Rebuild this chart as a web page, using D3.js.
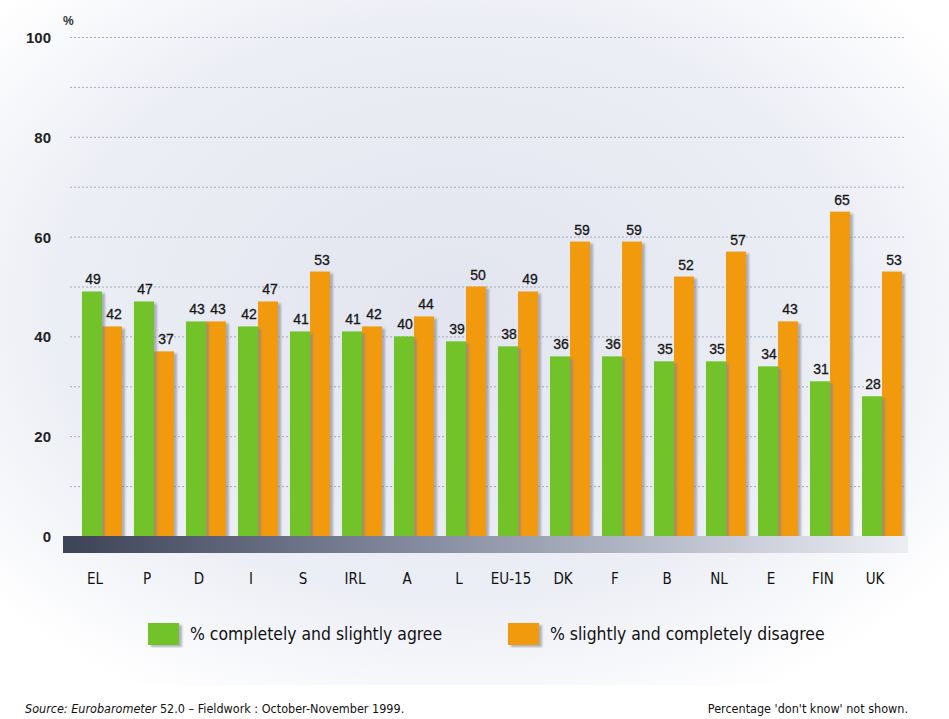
<!DOCTYPE html>
<html>
<head>
<meta charset="utf-8">
<script src="https://cdn.jsdelivr.net/npm/d3@7"></script>
<style>
  html, body { margin: 0; padding: 0; background: #fff; }
  svg { display: block; }
  .narrow { font-family: "DejaVu Sans Condensed", "DejaVu Sans", sans-serif; font-stretch: condensed; }
</style>
</head>
<body>
<svg id="chart"></svg>
<script>
// chart data
const countries = ["EL", "P", "D", "I", "S", "IRL", "A", "L", "EU-15", "DK", "F", "B", "NL", "E", "FIN", "UK"];
const agree    = [49, 47, 43, 42, 41, 41, 40, 39, 38, 36, 36, 35, 35, 34, 31, 28];
const disagree = [42, 37, 43, 47, 53, 42, 44, 50, 49, 59, 59, 52, 57, 43, 65, 53];
const seriesNames = ["% completely and slightly agree", "% slightly and completely disagree"];
const yTicks = [0, 20, 40, 60, 80, 100];

const width = 949, height = 719;
const green = "#72c22c", orange = "#f29a0c";

const svg = d3.select("#chart").attr("width", width).attr("height", height);
const defs = svg.append("defs");

// soft lavender background
const bg = defs.append("radialGradient").attr("id", "bg")
  .attr("cx", "48%").attr("cy", "45%").attr("r", "65%");
bg.append("stop").attr("offset", "0%").attr("stop-color", "#e2e5ef");
bg.append("stop").attr("offset", "65%").attr("stop-color", "#eceef5");
bg.append("stop").attr("offset", "100%").attr("stop-color", "#ffffff");
svg.append("rect").attr("width", width).attr("height", height).attr("fill", "#fff");
svg.append("rect").attr("x", 0).attr("y", 0).attr("width", width).attr("height", 685)
  .attr("fill", "url(#bg)");

// base bar gradient
const base = defs.append("linearGradient").attr("id", "base");
base.append("stop").attr("offset", "0%").attr("stop-color", "#3d4256");
base.append("stop").attr("offset", "45%").attr("stop-color", "#8a90a3");
base.append("stop").attr("offset", "100%").attr("stop-color", "#eceef4");

const axisGrad = defs.append("linearGradient").attr("id", "axisv")
  .attr("x1", 0).attr("x2", 0).attr("y1", 0).attr("y2", 1);
axisGrad.append("stop").attr("offset", "0%").attr("stop-color", "#d0d3dc");
axisGrad.append("stop").attr("offset", "100%").attr("stop-color", "#6b7083");

const shadow = defs.append("filter").attr("id", "shadow")
  .attr("x", "-20%").attr("y", "-5%").attr("width", "160%").attr("height", "115%");
shadow.append("feDropShadow").attr("dx", 3).attr("dy", 2).attr("stdDeviation", 1.3)
  .attr("flood-color", "#7f8496").attr("flood-opacity", 0.6);

const y = d3.scaleLinear().domain([0, 100]).range([536, 37]);
const x = d3.scaleBand().domain(countries).range([70, 914]).padding(0.23);
const xs = d3.scaleBand().domain([0, 1]).range([0, x.bandwidth()]);

// dotted gridlines every 10
svg.append("g").selectAll("line")
  .data(d3.range(10, 101, 10))
  .join("line")
  .attr("x1", 70).attr("x2", 905)
  .attr("y1", d => y(d) + 0.5).attr("y2", d => y(d) + 0.5)
  .attr("stroke", "#a6aab8").attr("stroke-width", 1)
  .attr("stroke-dasharray", "2,2");

// vertical axis line
svg.append("line")
  .attr("x1", 64).attr("x2", 64).attr("y1", y(100) - 2).attr("y2", y(0))
  .attr("stroke", "url(#axisv)").attr("stroke-width", 2.5);

// y tick labels
svg.append("g").attr("font-family", "'Liberation Sans', Arial, sans-serif")
  .attr("font-size", 15).attr("font-weight", "bold").attr("fill", "#222")
  .selectAll("text").data(yTicks).join("text")
  .attr("x", 51).attr("y", d => y(d) + 6)
  .attr("text-anchor", "end")
  .text(d => d);
svg.append("text").attr("x", 63).attr("y", 25)
  .attr("font-family", "'Liberation Sans', Arial, sans-serif")
  .attr("font-size", 12).attr("font-weight", "bold").attr("fill", "#333").text("%");

// bars
const groups = svg.append("g").selectAll("g")
  .data(countries.map((c, i) => ({ c, vals: [agree[i], disagree[i]] })))
  .join("g")
  .attr("transform", d => `translate(${x(d.c)},0)`);

groups.selectAll("rect")
  .data(d => d.vals.map((v, k) => ({ v, k })).reverse())
  .join("rect")
  .attr("x", d => xs(d.k))
  .attr("width", xs.bandwidth())
  .attr("y", d => y(d.v))
  .attr("height", d => y(0) - y(d.v))
  .attr("fill", d => d.k === 0 ? green : orange)
  .attr("filter", "url(#shadow)");

groups.selectAll("text")
  .data(d => d.vals.map((v, k) => ({ v, k })))
  .join("text")
  .attr("x", d => xs(d.k) + xs.bandwidth() / 2 + (d.k === 0 ? 1 : 2))
  .attr("y", d => y(d.v) - 7)
  .attr("text-anchor", "middle")
  .attr("font-family", "'Liberation Sans', Arial, sans-serif")
  .attr("font-size", 14).attr("fill", "#161616")
  .attr("stroke", "#161616").attr("stroke-width", 0.3)
  .text(d => d.v);

// base bar
svg.append("rect").attr("x", 63).attr("y", y(0)).attr("width", 845).attr("height", 17)
  .attr("fill", "url(#base)");

// category labels
svg.append("g").attr("class", "narrow")
  .attr("font-size", 15).attr("fill", "#111")
  .selectAll("text").data(countries).join("text")
  .attr("x", d => x(d) + x.bandwidth() / 2 - 7)
  .attr("y", 584)
  .attr("text-anchor", "middle")
  .text(d => d);

// legend
const legend = svg.append("g").attr("class", "narrow").attr("font-size", 17.4).attr("fill", "#111");
const legendX = [148, 508];
seriesNames.forEach((name, i) => {
  legend.append("rect").attr("x", legendX[i]).attr("y", 623).attr("width", 31).attr("height", 22)
    .attr("fill", i === 0 ? green : orange).attr("filter", "url(#shadow)");
  legend.append("text").attr("x", legendX[i] + 42).attr("y", 640).text(name);
});

// footnotes
const foot = svg.append("g").attr("class", "narrow").attr("font-size", 12.5).attr("fill", "#111");
const src = foot.append("text").attr("x", 25).attr("y", 713);
src.append("tspan").attr("font-style", "italic").text("Source: Eurobarometer");
src.append("tspan").text(" 52.0 – Fieldwork : October-November 1999.");
foot.append("text").attr("x", 908).attr("y", 713).attr("text-anchor", "end")
  .text("Percentage 'don't know' not shown.");
</script>
</body>
</html>
